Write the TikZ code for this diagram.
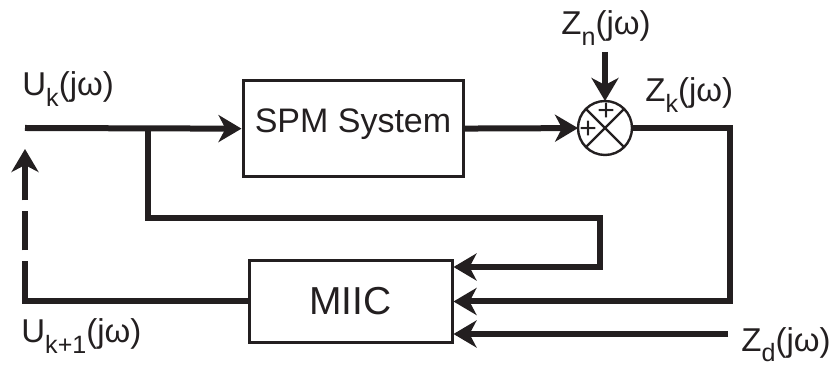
\documentclass[tikz,border=0pt]{standalone}
\usepackage{fontspec}
\setmainfont{Liberation Sans}
\usepackage{graphicx}
\usepackage{tikz}
\usetikzlibrary{arrows.meta,positioning,calc}
\definecolor{diagink}{HTML}{231F20}
\tikzstyle{block} = [rectangle, draw=diagink, line width=1.5pt, inner sep=0pt, text=diagink]
\tikzstyle{sumjunc} = [circle, draw=diagink, line width=1.2pt, inner sep=0pt, outer sep=0pt, minimum size=27pt]
\tikzstyle{sig} = [-{Stealth[length=11.5pt,width=13.5pt,inset=3.5pt]}, line width=3pt, diagink]
\tikzstyle{lbl} = [font=\fontsize{16.5}{19}\selectfont, text=diagink, inner sep=0pt, anchor=base west]
\newcommand{\lowsub}[1]{\raisebox{-0.33em}{\scalebox{0.76}{#1}}}

\begin{document}
\begin{tikzpicture}[x=0.5pt, y=-0.5pt]
\useasboundingbox (0,0) rectangle (838,367);
% blocks
\node[block, minimum width=110pt, minimum height=48pt, font=\fontsize{17}{20}\selectfont] (spm) at (353,129) {\raisebox{2.4pt}[\height][\depth]{SPM System}};
\node[block, minimum width=101.5pt, minimum height=40.5pt, font=\fontsize{19.5}{22}\selectfont] (miic) at (350.5,301.5) {MIIC};
\node[sumjunc] (sum) at (605,128) {};
\draw[diagink, line width=1.2pt] (sum.north east) -- (sum.south west) (sum.north west) -- (sum.south east);
\node[font=\fontsize{15}{15}\selectfont, text=diagink, inner sep=0pt] (plustop) at ($(sum.center)+(1,-16)$) {+};
\node[font=\fontsize{15}{15}\selectfont, text=diagink, inner sep=0pt] (plusleft) at ($(sum.center)+(-17,2)$) {+};

% free ends
\coordinate (uk) at (25,128);
\coordinate (tap) at (148,128);
\coordinate (loopr) at (600,218);
\coordinate (zn) at (605,52);
\coordinate (zkc) at (730,128);
\coordinate (zdin) at (728,334);
\coordinate (ukp1) at (25,149);

% labels
\node[lbl] (uklbl) at (22,96) {U\lowsub{k}(jω)};
\node[lbl] (znlbl) at (561,35) {Z\lowsub{n}(jω)};
\node[lbl] (zklbl) at (645,102) {Z\lowsub{k}(jω)};
\node[lbl] (zdlbl) at (741,351) {Z\lowsub{d}(jω)};
\node[lbl] (ukp1lbl) at (21,343) {U\lowsub{k+1}(jω)};

% signals
\draw[sig] (uk) -- (spm);
\draw[sig] (spm) -- (sum);
\draw[sig] (zn) -- (sum);
\draw[sig] (tap) |- (loopr) |- ($(miic.east)+(0,-34.5)$);
\draw[sig] (sum) -- (zkc) |- (miic);
\draw[sig] (zdin) -- (zdin -| miic.east);
\draw[sig, dash pattern=on 131.25pt off 5.5pt on 19.5pt off 5.5pt on 200pt] (miic.west) -| (ukp1);
\end{tikzpicture}
\end{document}
